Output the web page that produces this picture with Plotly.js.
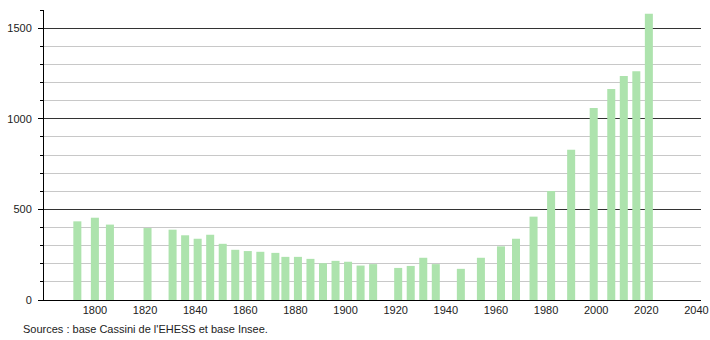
<!DOCTYPE html>
<html>
<head>
<meta charset="utf-8">
<script src="https://cdn.plot.ly/plotly-3.0.1.min.js"></script>
<style>html,body{margin:0;padding:0;background:#fff;}#chart{width:710px;height:340px;}</style>
</head>
<body>
<div id="chart"></div>
<script>
const years = [1793,1800,1806,1821,1831,1836,1841,1846,1851,1856,1861,1866,1872,1876,1881,1886,1891,1896,1901,1906,1911,1921,1926,1931,1936,1946,1954,1962,1968,1975,1982,1990,1999,2006,2011,2016,2021];
const population = [434,454,416,397,388,357,338,360,310,277,270,266,260,238,238,227,203,216,211,190,198,177,188,233,198,172,233,296,338,460,602,829,1059,1164,1236,1262,1580];
const xTickVals = [1800,1820,1840,1860,1880,1900,1920,1940,1960,1980,2000,2020,2040];
const yTickVals = [0,500,1000,1500];
const sourceText = "Sources : base Cassini de l'EHESS et base Insee.";

const font = {family: '"Liberation Sans", Arial, sans-serif', size: 11, color: '#222'};

const trace = {
  type: 'bar',
  x: years,
  y: population,
  width: 3.2,
  marker: {color: '#ade3ad', line: {width: 0}},
  hoverinfo: 'x+y'
};

const layout = {
  width: 710, height: 340,
  margin: {l: 44, r: 9, t: 10, b: 40, pad: 0},
  paper_bgcolor: '#fff', plot_bgcolor: '#fff',
  font: font,
  showlegend: false,
  xaxis: {
    range: [1779.7, 2041.8],
    tickvals: xTickVals,
    ticktext: xTickVals.map(String),
    ticks: '',
    showgrid: false,
    zeroline: false,
    showline: true,
    linecolor: '#000',
    linewidth: 1,
    tickfont: font
  },
  yaxis: {
    range: [0, 1600],
    tickvals: yTickVals,
    ticktext: yTickVals.map(String),
    ticks: 'outside',
    ticklen: 5,
    tickcolor: '#000',
    tickwidth: 1,
    showgrid: true,
    gridcolor: '#333',
    gridwidth: 1,
    zeroline: false,
    showline: true,
    linecolor: '#000',
    linewidth: 1,
    ticklabelstandoff: 4,
    tickfont: font,
    minor: {dtick: 100, tick0: 0, showgrid: true, gridcolor: '#c8c8c8', gridwidth: 1, ticks: 'outside', ticklen: 3, tickcolor: '#000'}
  },
  annotations: [{
    text: sourceText,
    xref: 'paper', yref: 'paper',
    x: -23/657, y: -29/290,
    xanchor: 'left', yanchor: 'middle',
    showarrow: false,
    font: font
  }]
};

Plotly.newPlot('chart', [trace], layout, {displayModeBar: false, staticPlot: true});
</script>
</body>
</html>
